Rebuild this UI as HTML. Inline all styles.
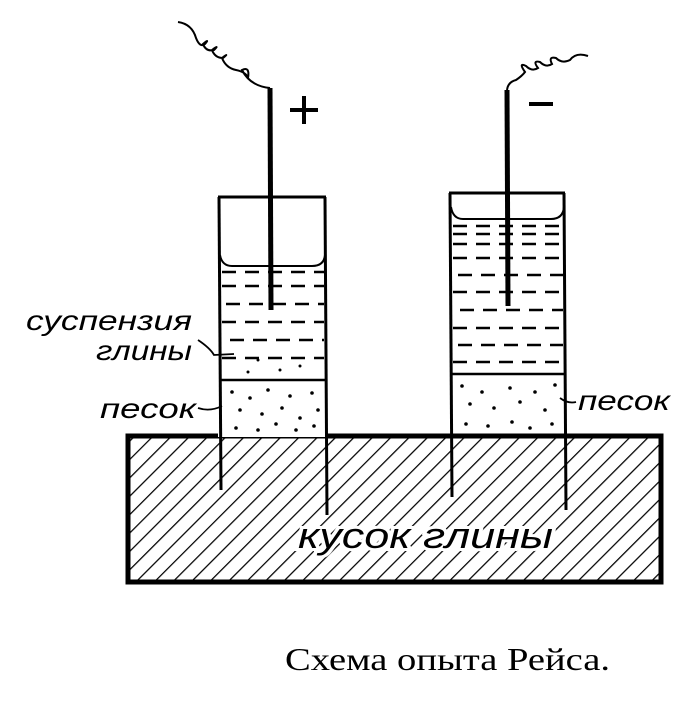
<!DOCTYPE html>
<html><head><style>html,body{margin:0;padding:0;background:#fff;}</style></head>
<body>
<svg width="700" height="701" viewBox="0 0 700 701" xmlns="http://www.w3.org/2000/svg">
<defs>
<pattern id="h" patternUnits="userSpaceOnUse" width="13" height="13" patternTransform="rotate(45)">
<line x1="0" y1="0" x2="0" y2="13" stroke="#000" stroke-width="2.5"/>
</pattern>
</defs>
<rect x="128" y="436" width="533" height="146" fill="url(#h)" stroke="#000" stroke-width="5"/>
<text x="298" y="548" textLength="255" lengthAdjust="spacingAndGlyphs" font-family="Liberation Sans, sans-serif" font-style="italic" font-size="36" fill="#000" stroke="#fff" stroke-width="6" paint-order="stroke">кусок глины</text>
<g stroke="#000" fill="none">
<rect x="218" y="380" width="108" height="57" fill="#fff" stroke="none"/>
<line x1="218" y1="197" x2="326" y2="197" stroke-width="3"/>
<line x1="219" y1="197" x2="221" y2="490" stroke-width="3"/>
<line x1="325" y1="197" x2="327" y2="515" stroke-width="3"/>
<path d="M220 255 Q222 266 232 266 L312 266 Q324 266 325 255" stroke-width="2"/>
<line x1="220" y1="380" x2="326" y2="380" stroke-width="2.5"/>
<line x1="449" y1="193" x2="565" y2="193" stroke-width="3"/>
<line x1="450" y1="193" x2="452" y2="497" stroke-width="3"/>
<line x1="564" y1="193" x2="566" y2="510" stroke-width="3"/>
<path d="M451 207 Q453 219 463 219 L551 219 Q563 219 564 207" stroke-width="2"/>
<line x1="451" y1="374" x2="565" y2="374" stroke-width="2.5"/>
</g>
<g stroke="#000" stroke-width="2.5" stroke-dasharray="14 9">
<line x1="222" y1="272" x2="324" y2="272"/>
<line x1="222" y1="286" x2="324" y2="286"/>
<line x1="226" y1="304" x2="324" y2="304"/>
<line x1="222" y1="322" x2="324" y2="322"/>
<line x1="230" y1="340" x2="324" y2="340"/>
<line x1="222" y1="358" x2="324" y2="358"/>
<line x1="453" y1="226" x2="563" y2="226"/>
<line x1="453" y1="234" x2="563" y2="234"/>
<line x1="453" y1="244" x2="563" y2="244"/>
<line x1="453" y1="258" x2="563" y2="258"/>
<line x1="458" y1="275" x2="563" y2="275"/>
<line x1="453" y1="292" x2="563" y2="292"/>
<line x1="460" y1="310" x2="563" y2="310"/>
<line x1="453" y1="328" x2="563" y2="328"/>
<line x1="458" y1="345" x2="563" y2="345"/>
<line x1="453" y1="362" x2="563" y2="362"/>
</g>
<g fill="#000">
<circle cx="232" cy="392" r="1.8"/><circle cx="250" cy="398" r="1.8"/><circle cx="268" cy="390" r="1.8"/><circle cx="290" cy="396" r="1.8"/><circle cx="312" cy="393" r="1.8"/>
<circle cx="240" cy="410" r="1.8"/><circle cx="262" cy="414" r="1.8"/><circle cx="282" cy="408" r="1.8"/><circle cx="300" cy="418" r="1.8"/><circle cx="318" cy="410" r="1.8"/>
<circle cx="236" cy="428" r="1.8"/><circle cx="258" cy="430" r="1.8"/><circle cx="276" cy="424" r="1.8"/><circle cx="296" cy="430" r="1.8"/><circle cx="314" cy="426" r="1.8"/>
<circle cx="258" cy="360" r="1.5"/><circle cx="280" cy="370" r="1.5"/><circle cx="300" cy="366" r="1.5"/><circle cx="248" cy="372" r="1.5"/>
<circle cx="462" cy="386" r="1.8"/><circle cx="482" cy="392" r="1.8"/><circle cx="510" cy="388" r="1.8"/><circle cx="535" cy="392" r="1.8"/><circle cx="555" cy="385" r="1.8"/>
<circle cx="470" cy="404" r="1.8"/><circle cx="494" cy="408" r="1.8"/><circle cx="520" cy="402" r="1.8"/><circle cx="545" cy="410" r="1.8"/>
<circle cx="466" cy="424" r="1.8"/><circle cx="488" cy="426" r="1.8"/><circle cx="512" cy="422" r="1.8"/><circle cx="530" cy="428" r="1.8"/><circle cx="552" cy="424" r="1.8"/>
</g>
<line x1="270" y1="88" x2="271" y2="310" stroke="#000" stroke-width="5"/>
<line x1="507" y1="90" x2="508" y2="306" stroke="#000" stroke-width="5"/>
<g stroke="#000" stroke-width="2" fill="none">
<path d="M178 22 Q192 24 196 38 Q200 48 205 44 Q210 38 203 44 Q206 52 214 50 Q220 44 212 50 Q215 58 223 58 Q230 52 222 58 Q226 68 236 70 Q246 72 248 78 Q250 66 242 70 Q250 86 270 88"/>
<path d="M507 90 Q508 82 516 80 Q522 76 525 72 Q518 62 526 66 Q532 72 538 68 Q532 60 540 62 Q546 68 552 64 Q548 56 556 58 Q562 64 570 60 Q576 52 588 56"/>
</g>
<g stroke="#000" stroke-width="4">
<line x1="290" y1="110" x2="318" y2="110"/><line x1="304" y1="96" x2="304" y2="124"/>
<line x1="529" y1="104" x2="553" y2="104"/>
</g>
<g font-family="Liberation Sans, sans-serif" font-style="italic" font-size="28" fill="#000" lengthAdjust="spacingAndGlyphs">
<text x="26" y="330" textLength="166" lengthAdjust="spacingAndGlyphs">суспензия</text>
<text x="96" y="360" textLength="96" lengthAdjust="spacingAndGlyphs">глины</text>
<text x="100" y="418" textLength="96" lengthAdjust="spacingAndGlyphs">песок</text>
<text x="578" y="410" textLength="92" lengthAdjust="spacingAndGlyphs">песок</text>
</g>
<g stroke="#000" stroke-width="1.8" fill="none">
<path d="M198 340 Q210 348 214 355 L234 354"/>
<path d="M198 408 Q210 412 222 406"/>
<path d="M560 398 Q568 404 576 402"/>
</g>
<text x="285" y="670" textLength="325" lengthAdjust="spacingAndGlyphs" font-family="Liberation Serif, serif" font-size="32" fill="#000">Схема опыта Рейса.</text>
</svg>
</body></html>
